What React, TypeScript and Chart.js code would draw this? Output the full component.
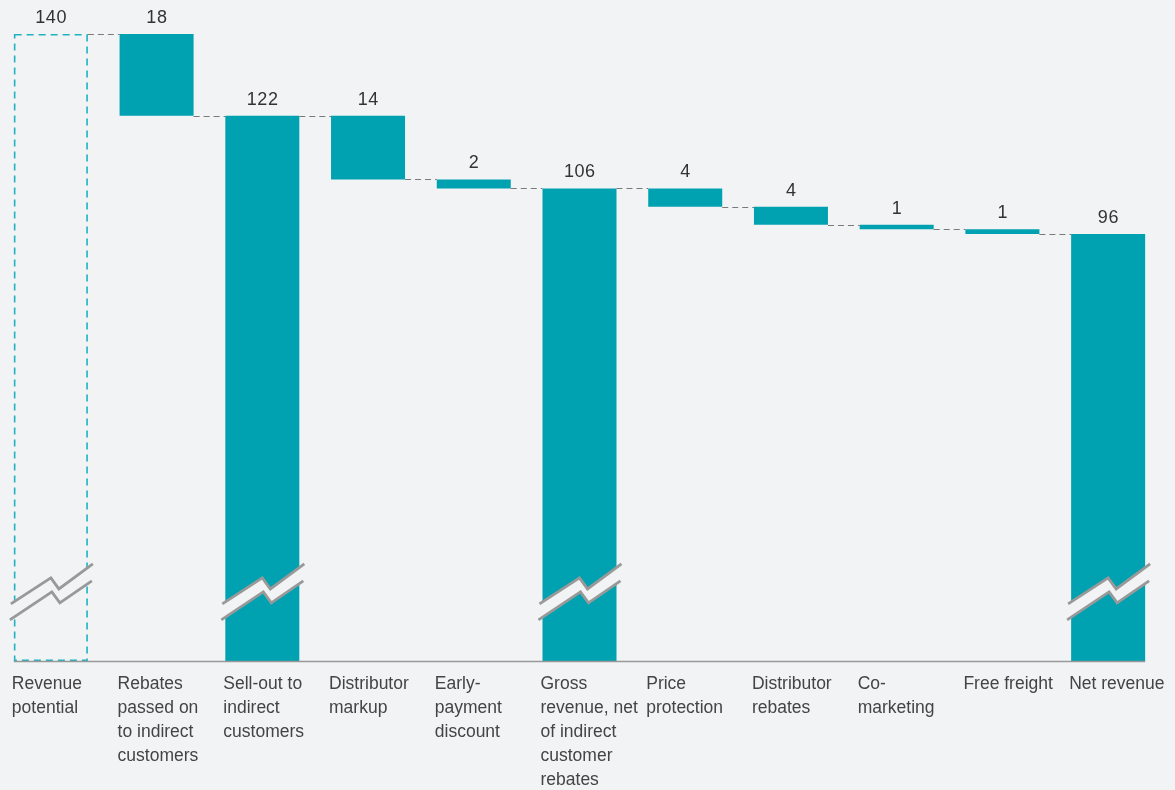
import { useEffect, useRef } from "react";
import { Chart, registerables } from "chart.js";

Chart.register(...registerables);

const categories: string[][] = [
  ["Revenue", "potential"],
  ["Rebates", "passed on", "to indirect", "customers"],
  ["Sell-out to", "indirect", "customers"],
  ["Distributor", "markup"],
  ["Early-", "payment", "discount"],
  ["Gross", "revenue, net", "of indirect", "customer", "rebates"],
  ["Price", "protection"],
  ["Distributor", "rebates"],
  ["Co-", "marketing"],
  ["Free freight"],
  ["Net revenue"],
];

const values: number[] = [140, 18, 122, 14, 2, 106, 4, 4, 1, 1, 96];

// "potential" = outlined total, "total" = full bar, "drop" = floating decrease
const kinds: string[] = [
  "potential",
  "drop",
  "total",
  "drop",
  "drop",
  "total",
  "drop",
  "drop",
  "drop",
  "drop",
  "total",
];

// axis is broken (see zig-zag marks), so the visible range starts a little above 0
const Y_MIN = 2;
const Y_MAX = 140;
const BREAK_VALUE = 17.2;

const TEAL = "#00a1b1";
const BOX_TEAL = "#1fb2c0";
const BG = "#f2f3f5";
const FONT = "'Liberation Sans', Arial, Helvetica, sans-serif";

function buildRanges(): { ranges: [number, number][]; levels: number[] } {
  const ranges: [number, number][] = [];
  const levels: number[] = [];
  let level = 0;
  values.forEach((v, i) => {
    if (kinds[i] === "drop") {
      ranges.push([level - v, level]);
      level -= v;
    } else {
      ranges.push([0, v]);
      level = v;
    }
    levels.push(level);
  });
  return { ranges, levels };
}

const { ranges, levels } = buildRanges();

const waterfallPlugin = {
  id: "waterfallDecor",
  beforeDraw(chart: any) {
    const ctx = chart.ctx;
    ctx.save();
    ctx.fillStyle = BG;
    ctx.fillRect(0, 0, chart.width, chart.height);
    ctx.restore();
  },
  afterDatasetsDraw(chart: any) {
    const ctx: CanvasRenderingContext2D = chart.ctx;
    const yScale = chart.scales.y;
    const area = chart.chartArea;
    const els: any[] = chart.getDatasetMeta(0).data;

    // dashed outline for the potential bar
    els.forEach((el, i) => {
      if (kinds[i] !== "potential") return;
      const left = el.x - el.width / 2;
      const top = Math.min(el.y, el.base);
      const bottom = Math.min(Math.max(el.y, el.base), area.bottom);
      ctx.save();
      ctx.strokeStyle = BOX_TEAL;
      ctx.lineWidth = 1.6;
      ctx.setLineDash([7, 5]);
      ctx.strokeRect(left + 0.8, top + 0.8, el.width - 1.6, bottom - top - 1.6);
      ctx.restore();
    });

    // connectors
    ctx.save();
    ctx.strokeStyle = "#7a7a7a";
    ctx.lineWidth = 1.2;
    ctx.setLineDash([6, 4]);
    for (let i = 0; i < els.length - 1; i++) {
      const a = els[i];
      const b = els[i + 1];
      const yy = Math.round(yScale.getPixelForValue(levels[i])) + 0.5;
      ctx.beginPath();
      ctx.moveTo(a.x + a.width / 2, yy);
      ctx.lineTo(b.x - b.width / 2, yy);
      ctx.stroke();
    }
    ctx.restore();

    // break marks on full bars
    const by = yScale.getPixelForValue(BREAK_VALUE);
    const upper: [number, number][] = [
      [-40, 12],
      [0, -14],
      [8, -3],
      [42, -28],
    ];
    const lower: [number, number][] = [
      [-41, 28],
      [1, 0],
      [9, 11],
      [41, -11],
    ];
    els.forEach((el, i) => {
      if (kinds[i] === "drop") return;
      const cx = el.x;
      ctx.save();
      ctx.fillStyle = BG;
      ctx.beginPath();
      upper.forEach(([dx, dy], k) => {
        if (k === 0) ctx.moveTo(cx + dx, by + dy);
        else ctx.lineTo(cx + dx, by + dy);
      });
      [...lower].reverse().forEach(([dx, dy]) => ctx.lineTo(cx + dx, by + dy));
      ctx.closePath();
      ctx.fill();
      ctx.strokeStyle = "#999999";
      ctx.lineWidth = 2.8;
      ctx.lineJoin = "miter";
      [upper, lower].forEach((pts) => {
        ctx.beginPath();
        pts.forEach(([dx, dy], k) => {
          if (k === 0) ctx.moveTo(cx + dx, by + dy);
          else ctx.lineTo(cx + dx, by + dy);
        });
        ctx.stroke();
      });
      ctx.restore();
    });

    // baseline (bottom of the visible, broken axis)
    const y0 = area.bottom;
    const first = els[0];
    const last = els[els.length - 1];
    ctx.save();
    ctx.strokeStyle = "#999999";
    ctx.lineWidth = 1.6;
    ctx.beginPath();
    ctx.moveTo(first.x - first.width / 2, y0 + 0.5);
    ctx.lineTo(last.x + last.width / 2, y0 + 0.5);
    ctx.stroke();
    ctx.restore();

    // value labels
    ctx.save();
    ctx.fillStyle = "#333333";
    ctx.font = `18px ${FONT}`;
    (ctx as any).letterSpacing = "0.6px";
    ctx.textAlign = "center";
    ctx.textBaseline = "middle";
    els.forEach((el, i) => {
      const top = Math.min(el.y, el.base);
      ctx.fillText(String(values[i]), el.x + 0.3, top - 16);
    });
    ctx.restore();
  },
};

export default function App() {
  const canvasRef = useRef<HTMLCanvasElement | null>(null);

  useEffect(() => {
    if (!canvasRef.current) return;
    const chart = new Chart(canvasRef.current, {
      type: "bar",
      data: {
        labels: categories,
        datasets: [
          {
            data: ranges as any,
            backgroundColor: kinds.map((k) => (k === "potential" ? "rgba(0,0,0,0)" : TEAL)),
            borderWidth: 0,
            barPercentage: 0.7,
            categoryPercentage: 1,
            clip: 0,
          } as any,
        ],
      },
      options: {
        responsive: false,
        animation: false,
        layout: { padding: { top: 34, left: 0, right: 14, bottom: 0 } },
        plugins: {
          legend: { display: false },
          tooltip: { enabled: false },
        },
        scales: {
          x: {
            grid: { display: false, drawTicks: false },
            border: { display: false },
            ticks: {
              autoSkip: false,
              maxRotation: 0,
              minRotation: 0,
              align: "start",
              labelOffset: -39,
              padding: 11,
              color: "#444444",
              font: { family: FONT, size: 17.5, lineHeight: "24px" },
            },
            afterFit: (scale: any) => {
              scale.height = 129;
              scale.paddingLeft = 0;
              scale.paddingRight = 0;
            },
          },
          y: {
            display: false,
            min: Y_MIN,
            max: Y_MAX,
          },
        },
      },
      plugins: [waterfallPlugin],
    });
    return () => chart.destroy();
  }, []);

  return (
    <div
      style={{
        position: "fixed",
        left: 0,
        top: 0,
        width: "100%",
        height: "100%",
        background: BG,
        overflow: "hidden",
      }}
    >
      <canvas
        ref={canvasRef}
        width={1177}
        height={790}
        style={{ position: "absolute", left: -2, top: 0, display: "block" }}
      />
    </div>
  );
}
